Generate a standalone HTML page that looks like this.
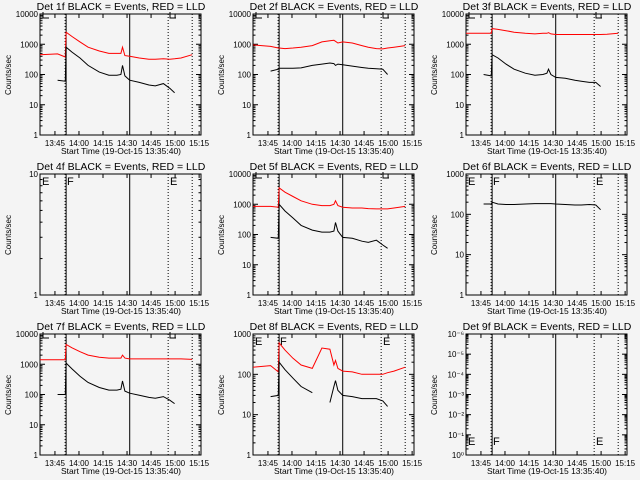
<!DOCTYPE html>
<html><head><meta charset="utf-8"><style>
html,body{margin:0;padding:0;background:#f4f4f4;}
svg{display:block;font-family:"Liberation Sans",sans-serif;}
</style></head><body>
<svg id="chart" width="640" height="480" xmlns="http://www.w3.org/2000/svg">
<rect width="640" height="480" fill="#f4f4f4"/>
</svg>
<script>
const T = [0, 11, 15.8, 16.3, 20, 25, 30, 37, 43, 48, 50.5, 51.5, 53, 56, 62, 68, 72, 77, 81, 84, 88, 95];
const xTickLabels = ["13:45", "14:00", "14:15", "14:30", "14:45", "15:00", "15:15"];
const xTickTimes = [9.33, 24.33, 39.33, 54.33, 69.33, 84.33, 99.33];
const vLines = [16.3, 56, 80, 95];
const panelTitles = ["Det 1f", "Det 2f", "Det 3f", "Det 4f", "Det 5f", "Det 6f", "Det 7f", "Det 8f", "Det 9f"];
const yRangeLo = [0, 0, 0, 0, 0, 0, 0, 0, 0];
const yRangeHi = [4, 4, 4, 1, 4, 3, 4, 3, 6];
const red1 = [450,480,380,2500,1800,1200,800,600,500,500,500,800,420,400,350,320,320,330,320,330,350,450];
const black1 = [null,65,60,800,550,350,200,120,95,95,100,200,90,65,55,45,42,50,35,25,null,null];
const red2 = [950,850,750,750,720,750,800,900,1200,1300,1350,1250,1100,1200,1100,900,800,720,700,750,800,900];
const black2 = [null,130,150,160,160,160,165,200,220,240,230,200,220,210,190,170,160,155,150,100,null,null];
const red3 = [2300,2300,2300,3300,3100,2800,2500,2300,2200,2300,2300,2400,2200,2100,2100,2100,2100,2100,2100,2100,2150,2300];
const black3 = [null,100,90,450,350,220,150,110,95,100,110,150,100,80,75,65,60,55,55,40,null,null];
const red4 = [];
const black4 = [];
const red5 = [850,850,800,3500,2500,1800,1300,1000,900,900,1000,1300,900,800,750,750,720,700,700,700,750,850];
const black5 = [null,80,75,1000,600,350,200,140,120,120,130,250,130,80,75,60,55,65,45,35,null,null];
const red6 = [];
const black6 = [null,180,180,200,180,175,175,180,185,185,185,185,185,180,175,170,170,175,170,130,null,null];
const red7 = [1400,1400,1400,4500,3500,2600,2000,1700,1600,1600,1600,2000,1600,1500,1500,1500,1500,1500,1500,1500,1500,1450];
const black7 = [null,100,100,1100,700,400,250,170,140,140,150,280,130,110,95,80,75,85,65,50,null,null];
const red8 = [150,165,115,600,400,250,170,140,450,420,170,220,140,120,115,100,100,100,100,110,120,150];
const black8 = [null,28,30,200,130,80,50,35,null,20,50,70,40,30,28,25,25,25,22,16,null,null];
const red9 = [];
const black9 = [];
const reds = [red1,red2,red3,red4,red5,red6,red7,red8,red9];
const blacks = [black1,black2,black3,black4,black5,black6,black7,black8,black9];

const NS = "http://www.w3.org/2000/svg";
const svg = document.getElementById("chart");
function mk(tag, attrs, parent){const e=document.createElementNS(NS,tag);for(const k in attrs)e.setAttribute(k,attrs[k]);parent.appendChild(e);return e;}
const L=40,R=201,TOP=14,BOT=135;
const supers={"0":"⁰","1":"¹","2":"²","3":"³","4":"⁴","5":"⁵","6":"⁶","-":"⁻"};
for(let p=0;p<9;p++){
  const ox=(p%3)*213, oy=Math.floor(p/3)*160;
  const g=mk("g",{transform:`translate(${ox},${oy})`},svg);
  
  
  const lo=yRangeLo[p], hi=yRangeHi[p];
  const xs=t=>L+t*(R-L)/100.5;
  const ys=v=>BOT-(Math.log10(v)-lo)/(hi-lo)*(BOT-TOP);
  const ysl=l=>BOT-(l-lo)/(hi-lo)*(BOT-TOP);
  // title
  const tt=mk("text",{x:121,y:10,"font-size":"10.5","text-anchor":"middle",fill:"#000"},g);
  tt.textContent=panelTitles[p]+" BLACK = Events, RED = LLD";
  
  
  // box
  const box=mk("rect",{x:L,y:TOP,width:R-L,height:BOT-TOP,fill:"none",stroke:"#000","stroke-width":1},g);
  
  
  // y ticks
  for(let d=lo;d<=hi;d++){
    const y=ysl(d);
    mk("line",{x1:L,x2:L+5,y1:y,y2:y,stroke:"#000"},g);
    mk("line",{x1:R-5,x2:R,y1:y,y2:y,stroke:"#000"},g);
    const lab=mk("text",{x:L-2,y:y+3,"font-size":"8","text-anchor":"end",fill:"#000"},g);
    if(p===8){lab.textContent="10"+(d===0?"⁰":"⁻"+supers[String(d)]);}
    else lab.textContent=String(Math.pow(10,d));
    
    
    if(d<hi){for(let m=2;m<=9;m++){const ym=ysl(d+Math.log10(m));
      mk("line",{x1:L,x2:L+2.5,y1:ym,y2:ym,stroke:"#000"},g);
      mk("line",{x1:R-2.5,x2:R,y1:ym,y2:ym,stroke:"#000"},g);}}
  }
  const yt=mk("text",{x:0,y:0,"font-size":"8","text-anchor":"middle",fill:"#000",transform:`translate(11,75) rotate(-90)`},g);
  yt.textContent="Counts/sec";
  
  
  // x ticks
  xTickTimes.forEach((t,i)=>{const x=xs(t);
    if(x<=R+0.5){mk("line",{x1:x,x2:x,y1:BOT,y2:BOT-4,stroke:"#000"},g);mk("line",{x1:x,x2:x,y1:TOP,y2:TOP+4,stroke:"#000"},g);}
    const xl=mk("text",{x:x,y:146,"font-size":"8","text-anchor":"middle",fill:"#000"},g);
    xl.textContent=xTickLabels[i];
    
    
  });
  const xt=mk("text",{x:121,y:154,"font-size":"8.5","text-anchor":"middle",fill:"#000"},g);
  xt.textContent="Start Time (19-Oct-15 13:35:40)";
  
  
  // vertical lines
  vLines.forEach((t,i)=>{const x=xs(t);
    const ln=mk("line",{x1:x,x2:x,y1:TOP,y2:BOT,stroke:"#000","stroke-width":1,"stroke-dasharray":i>=2?"1,2":"none"},g);
    
    
  });
  mk("line",{x1:xs(16.3)-1,x2:xs(16.3)-1,y1:TOP,y2:BOT,stroke:"#000","stroke-dasharray":"1,2"},g);
  // markers
  if([0,1,2,4,6].includes(p)){
    [43,170].forEach(x=>{const m=mk("path",{d:`M${x},${TOP-2} V${TOP+4} H${x+6}`,fill:"none",stroke:"#000"},g);
      
      });
  } else {
    const my=p===8?BOT-10:TOP+11;
    [["E",42],["F",67],["E",170]].forEach(([c,x])=>{const m=mk("text",{x:x,y:my,"font-size":"11",fill:"#000"},g);
      m.textContent=c;
      
      });
  }
  // series
  [[reds[p],"#ff0000","lld-series"],[blacks[p],"#000","events-series"]].forEach(([arr,col,name])=>{
    if(!arr.length)return;
    let d="",pen=false;
    arr.forEach((v,i)=>{if(v==null){pen=false;return;}
      d+=(pen?"L":"M")+xs(T[i]).toFixed(1)+","+ys(v).toFixed(1)+" ";pen=true;});
    const pth=mk("path",{d:d,fill:"none",stroke:col,"stroke-width":1},g);
    
    
  });
}
</script>
</body></html>
